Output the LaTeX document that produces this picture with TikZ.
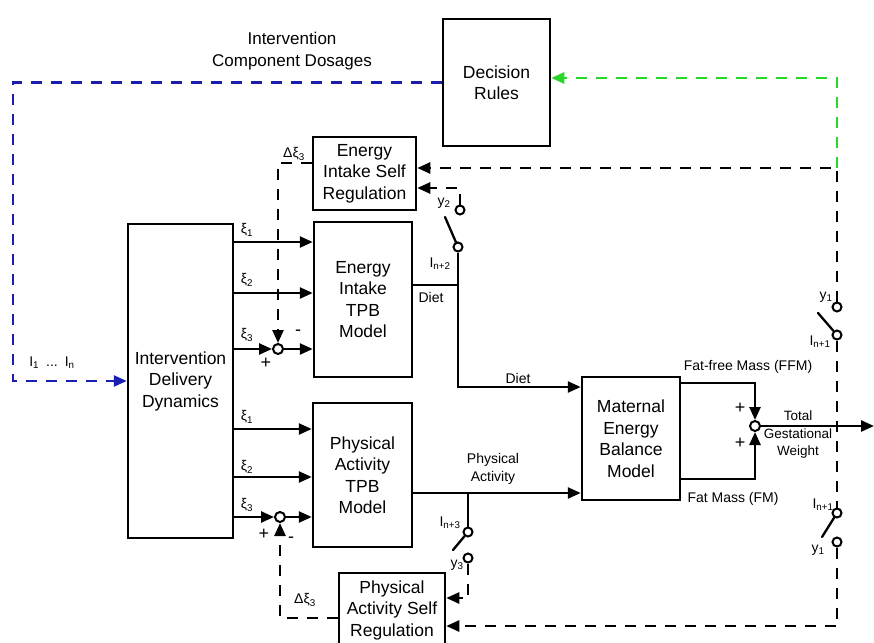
\documentclass[tikz,border=0pt]{standalone}
\usepackage{fontspec}
\setmainfont{Liberation Sans}
\usetikzlibrary{arrows.meta}
\definecolor{dblue}{RGB}{25,30,175}
\definecolor{lgreen}{RGB}{40,215,40}
\begin{document}
\begin{tikzpicture}[x=1pt,y=-1pt,
  box/.style={draw, line width=2.5pt, align=center, inner sep=0pt, font=\fontsize{17.5}{21.5}\selectfont},
  lbl/.style={font=\fontsize{14}{18}\selectfont, inner sep=0pt, align=center},
  big/.style={font=\fontsize{17}{22}\selectfont, inner sep=0pt, align=center},
  pm/.style={font=\fontsize{18}{20}\selectfont, inner sep=0pt},
  tip/.style={-{Triangle[length=13pt,width=11pt]}},
  sig/.style={line width=2.5pt, tip},
  wire/.style={line width=2.5pt},
  blade/.style={line width=2.3pt, line cap=round},
  dsh/.style={line width=2.5pt, dash pattern=on 11pt off 9pt},
  sumc/.style={circle, draw, line width=2pt, fill=white, minimum size=10pt, inner sep=0pt},
  term/.style={circle, draw, line width=2pt, fill=white, minimum size=9pt, inner sep=0pt},
]
\clip (0,0) rectangle (874,642);
\fill[white] (0,0) rectangle (874,642);

% ---------- boxes ----------
\node[box, minimum width=107pt, minimum height=127pt] (DR) at (496.5,82.5) {Decision\\Rules};
\node[box, minimum width=103pt, minimum height=73pt] (EISR) at (364.5,173.5) {Energy\\Intake Self\\Regulation};
\node[box, minimum width=98pt, minimum height=155pt] (EITPB) at (363,299.5) {Energy\\Intake\\TPB\\Model};
\node[box, minimum width=105pt, minimum height=314pt] (IDD) at (180.5,381) {Intervention\\Delivery\\Dynamics};
\node[box, minimum width=99pt, minimum height=144pt] (PATPB) at (362.5,475) {Physical\\Activity\\TPB\\Model};
\node[box, minimum width=106pt, minimum height=74pt] (PASR) at (392,610) {Physical\\Activity Self\\Regulation};
\node[box, minimum width=98pt, minimum height=123pt] (MEB) at (631,438.5) {Maternal\\Energy\\Balance\\Model};

% ---------- summing junctions ----------
\node[sumc] (s1) at (278,349) {};
\node[sumc] (s2) at (280,517) {};
\node[sumc] (s3) at (755,426) {};

% ---------- switch terminals ----------
\node[term] (y2t) at (460,210) {};
\node[term] (i2t) at (458,247) {};
\node[term] (i3t) at (468,532) {};
\node[term] (y3t) at (468,558) {};
\node[term] (y1a) at (837,307) {};
\node[term] (i1a) at (837,335) {};
\node[term] (i1b) at (837,513) {};
\node[term] (y1b) at (837,542) {};

% ---------- helper coordinates ----------
\coordinate (bl1) at (13,82.5);
\coordinate (bl2) at (13,381);
\coordinate (g1) at (837,78);
\coordinate (rc) at (837,168);
\coordinate (rb) at (837,626);
\coordinate (d1) at (458,285);
\coordinate (d2) at (458,387);
\coordinate (pj) at (468,493);
\coordinate (out) at (874,426);
\coordinate (ba) at (818,313);
\coordinate (bb) at (822,537);
\coordinate (b2) at (445,217);
\coordinate (b3) at (453,550);

% ---------- blue dosage path ----------
\draw[dsh, dblue, tip] (DR.west) -- (bl1) -- (bl2) -- (IDD.west);

% ---------- green feedback to decision rules ----------
\draw[dsh, lgreen, tip] (rc) -- (g1) -- (DR.east |- g1);

% ---------- black feedback paths ----------
\draw[dsh, tip] (y1a) -- (rc) -- (EISR.east |- rc);
\draw[dsh] (i1a) -- (i1b);
\draw[dsh, tip] (y1b) -- (rb) -- (PASR.east |- rb);
\draw[dsh, tip] (y2t) |- (EISR.east |- 0,188);
\draw[dsh, tip] (y3t) |- (PASR.east |- 0,598);
\draw[dsh, tip] (EISR.west |- 0,163) -| (s1);
\draw[dsh, tip] (PASR.west |- 0,618) -| (s2);

% ---------- switch blades ----------
\draw[blade] (i1a) -- (ba);
\draw[blade] (i1b) -- (bb);
\draw[blade] (i2t) -- (b2);
\draw[blade] (i3t) -- (b3);

% ---------- intervention signals ----------
\draw[sig] (IDD.east |- 0,242) -- (EITPB.west |- 0,242);
\draw[sig] (IDD.east |- 0,293) -- (EITPB.west |- 0,293);
\draw[sig] (IDD.east |- s1) -- (s1);
\draw[sig] (s1) -- (EITPB.west |- s1);
\draw[sig] (IDD.east |- 0,429) -- (PATPB.west |- 0,429);
\draw[sig] (IDD.east |- 0,477) -- (PATPB.west |- 0,477);
\draw[sig] (IDD.east |- s2) -- (s2);
\draw[sig] (s2) -- (PATPB.west |- s2);

% ---------- diet and activity ----------
\draw[wire] (EITPB.east |- d1) -- (d1);
\draw[wire] (i2t) -- (d1);
\draw[sig] (d1) -- (d2) -- (MEB.west |- d2);
\draw[sig] (PATPB.east |- pj) -- (MEB.west |- pj);
\draw[wire] (pj) -- (i3t);

% ---------- mass outputs ----------
\draw[sig] (MEB.east |- 0,383) -| (s3);
\draw[sig] (MEB.east |- 0,479) -| (s3);
\draw[sig] (s3) -- (out);

% ---------- labels ----------
\node[big] (lcd) at (292,51) {Intervention\\Component Dosages};
\node[lbl] (lin) at (52,363) {I\textsubscript{1}\enspace ...\enspace I\textsubscript{n}};
\node[lbl] at (247,230) {ξ\textsubscript{1}};
\node[lbl] at (247,280) {ξ\textsubscript{2}};
\node[lbl] at (247,335) {ξ\textsubscript{3}};
\node[lbl] at (247,417) {ξ\textsubscript{1}};
\node[lbl] at (247,467) {ξ\textsubscript{2}};
\node[lbl] at (247,505) {ξ\textsubscript{3}};
\node[pm] at (298,333) {-};
\node[pm] at (266,363) {+};
\node[pm] at (264,534) {+};
\node[pm] at (291,540) {-};
\node[lbl] at (294,154) {Δξ\textsubscript{3}};
\node[lbl] at (305,600) {Δξ\textsubscript{3}};
\node[lbl] at (444,203) {y\textsubscript{2}};
\node[lbl] at (440,264) {I\textsubscript{n+2}};
\node[lbl] at (431,297) {Diet};
\node[lbl] at (518,378) {Diet};
\node[lbl] at (493,469) {Physical\\Activity};
\node[lbl] at (450,523) {I\textsubscript{n+3}};
\node[lbl] at (457,565) {y\textsubscript{3}};
\node[lbl] at (826,297) {y\textsubscript{1}};
\node[lbl] at (820,342) {I\textsubscript{n+1}};
\node[lbl] at (823,505) {I\textsubscript{n+1}};
\node[lbl] at (818,550) {y\textsubscript{1}};
\node[lbl] at (748,367) {Fat-free Mass (FFM)};
\node[lbl] at (733,499) {Fat Mass (FM)};
\node[pm] at (740,408) {+};
\node[pm] at (740,443) {+};
\node[lbl, font=\fontsize{13.5}{17.5}\selectfont] at (798,435) {Total\\Gestational\\Weight};
\end{tikzpicture}
\end{document}
